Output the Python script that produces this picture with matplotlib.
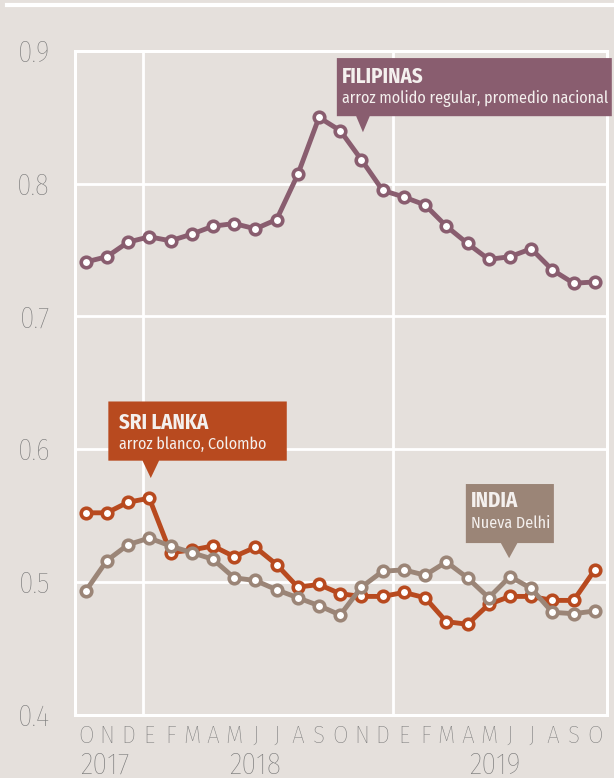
import matplotlib
matplotlib.use('Agg')
import matplotlib.pyplot as plt
from matplotlib import font_manager
from matplotlib.patches import Polygon
from matplotlib.lines import Line2D

installed = {f.name for f in font_manager.fontManager.ttflist}
FONT = 'DejaVu Sans'
for cand in ['Fira Sans Condensed', 'PT Sans Narrow', 'Open Sans Condensed',
             'Roboto Condensed', 'Asap Condensed', 'Liberation Sans Narrow']:
    if cand in installed:
        FONT = cand
        break
plt.rcParams['font.family'] = [FONT, 'DejaVu Sans']

# oct 2017 .. oct 2019, monthly
months = ['O', 'N', 'D', 'E', 'F', 'M', 'A', 'M', 'J', 'J', 'A', 'S',
          'O', 'N', 'D', 'E', 'F', 'M', 'A', 'M', 'J', 'J', 'A', 'S', 'O']
years = ['2017', '2018', '2019']
year_pos = [0.9, 8.0, 19.3]

filipinas = [0.741, 0.745, 0.756, 0.760, 0.757, 0.762, 0.768, 0.770, 0.766, 0.773,
             0.807, 0.850, 0.840, 0.818, 0.795, 0.790, 0.784, 0.768, 0.755, 0.743,
             0.745, 0.751, 0.735, 0.725, 0.726]
sri_lanka = [0.552, 0.552, 0.560, 0.563, 0.522, 0.524, 0.527, 0.519, 0.526, 0.513,
             0.496, 0.498, 0.491, 0.489, 0.489, 0.492, 0.488, 0.470, 0.468, 0.483,
             0.489, 0.489, 0.486, 0.486, 0.509]
india = [0.493, 0.516, 0.528, 0.533, 0.527, 0.522, 0.517, 0.503, 0.501, 0.494,
         0.488, 0.482, 0.475, 0.496, 0.508, 0.509, 0.505, 0.515, 0.503, 0.488,
         0.504, 0.495, 0.477, 0.476, 0.478]

BG = '#e5e0dc'
GREY = '#787878'
C_FIL = '#895d6f'
C_SRI = '#b84a1f'
C_IND = '#9b8577'

fig = plt.figure(figsize=(6.14, 7.78), dpi=100, facecolor=BG)
ax = fig.add_axes([0.1222, 0.0816, 0.8656, 0.8528])
ax.set_facecolor(BG)

x = list(range(len(months)))
for vals, col in [(filipinas, C_FIL), (sri_lanka, C_SRI), (india, C_IND)]:
    ax.plot(x, vals, color=col, lw=3.5, marker='o', ms=7.6, mfc='white',
            mec=col, mew=2.6, zorder=3, solid_joinstyle='round')

ax.set_xlim(-0.5, 24.55)
ax.set_ylim(0.4, 0.9)

# white grid
for v in [0.5, 0.6, 0.7, 0.8]:
    ax.axhline(v, color='white', lw=2, zorder=1)
for v in [2.7, 14.5]:
    ax.axvline(v, color='white', lw=2, zorder=1)
for s in ax.spines.values():
    s.set_color('white')
    s.set_linewidth(2.2)

ax.set_yticks([0.4, 0.5, 0.6, 0.7, 0.8, 0.9])
ax.set_yticklabels(['0.4', '0.5', '0.6', '0.7', '0.8', '0.9'], fontweight='light')
ax.set_xticks(x)
ax.set_xticklabels(months, fontweight='light')
ax.tick_params(axis='y', length=0, pad=18, labelsize=21, labelcolor=GREY)
ax.tick_params(axis='x', length=0, pad=7.5, labelsize=18, labelcolor=GREY)

for yr, p in zip(years, year_pos):
    ax.annotate(yr, xy=(p, 0), xycoords=('data', 'axes fraction'),
                xytext=(0, -36.5), textcoords='offset points', fontweight='light',
                ha='center', va='center', fontsize=21.5, color=GREY)


def callout(x0, x1, yb, yt, tip, half, color, title, sub, tx, ty1, ty2):
    pts = [(x0, yb), (tip[0] - half, yb), tip, (tip[0] + half, yb),
           (x1, yb), (x1, yt), (x0, yt)]
    ax.add_patch(Polygon(pts, closed=True, facecolor=color, edgecolor='none',
                         zorder=5, clip_on=False))
    ax.text(tx, ty1, title, fontsize=15, fontweight='bold', color='#f4f0ee',
            va='baseline', ha='left', zorder=6, clip_on=False)
    ax.text(tx, ty2, sub, fontsize=11.6, color='#f4f0ee',
            va='baseline', ha='left', zorder=6, clip_on=False)


callout(11.84, 24.8, 0.8509, 0.8947, (13.07, 0.8388), 0.32, C_FIL,
        'FILIPINAS', 'arroz molido regular, promedio nacional', 12.08, 0.8758, 0.8607)
callout(1.07, 9.48, 0.5913, 0.6359, (3.07, 0.5782), 0.39, C_SRI,
        'SRI LANKA', 'arroz blanco, Colombo', 1.58, 0.615, 0.600)
callout(17.92, 22.07, 0.5292, 0.5737, (19.96, 0.5178), 0.39, C_IND,
        'INDIA', 'Nueva Delhi', 18.14, 0.5561, 0.5405)

# white rule at the very top
fig.add_artist(Line2D([7 / 614, 1], [1 - 4.5 / 778] * 2, color='white', lw=3,
                      transform=fig.transFigure))

fig.savefig('out.png', dpi=100, facecolor=BG)
